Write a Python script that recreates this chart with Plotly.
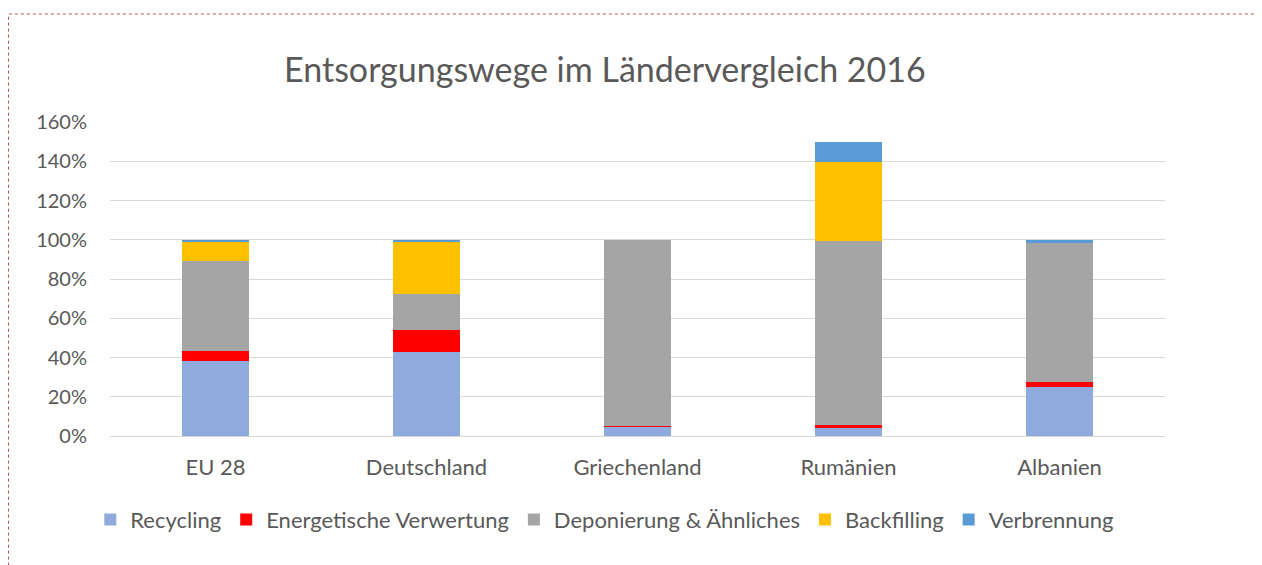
import plotly.graph_objects as go

laender = ['EU 28', 'Deutschland', 'Griechenland', 'Rumänien', 'Albanien']

# Anteile in Prozent
recycling = [38.0, 42.6, 4.6, 4.1, 25.1]
energetisch = [5.4, 11.4, 0.5, 1.3, 2.6]
deponierung = [45.9, 18.2, 94.9, 94.1, 70.5]
backfilling = [10.0, 26.7, 0.0, 40.1, 0.0]
verbrennung = [0.8, 1.1, 0.0, 10.0, 1.8]

reihen = [
    ('Recycling', recycling, '#8FAADC'),
    ('Energetische Verwertung', energetisch, '#FF0000'),
    ('Deponierung & Ähnliches', deponierung, '#A5A5A5'),
    ('Backfilling', backfilling, '#FFC000'),
    ('Verbrennung', verbrennung, '#5B9BD5'),
]

grau = '#595959'
schrift = 'Lato'

fig = go.Figure()
for name, werte, farbe in reihen:
    fig.add_trace(go.Bar(
        x=laender,
        y=[w / 100 for w in werte],
        name=name,
        marker=dict(color=farbe, line=dict(width=0)),
        width=0.315,
    ))

# die Seite hat 8px Rand, daher Größe und Ränder entsprechend verschoben
fig.update_layout(
    barmode='stack',
    width=1254,
    height=557,
    paper_bgcolor='white',
    plot_bgcolor='white',
    margin=dict(l=102, r=97, t=114, b=129),
    font=dict(family=schrift, color=grau, size=19),
    title=dict(
        text='Entsorgungswege im Ländervergleich 2016',
        x=0.476, xanchor='center',
        y=0.889, yanchor='middle',
        font=dict(size=34, color=grau, family=schrift),
    ),
    xaxis=dict(
        showgrid=False,
        showline=True,
        linecolor='#D9D9D9',
        linewidth=1,
        ticks='',
        ticklabelstandoff=12,
        tickfont=dict(size=22, color=grau),
    ),
    yaxis=dict(
        range=[0, 1.6],
        dtick=0.2,
        tickformat='.0%',
        showgrid=True,
        gridcolor='#D9D9D9',
        gridwidth=1,
        zeroline=False,
        showline=False,
        ticks='',
        ticklabelstandoff=22,
        tickfont=dict(size=20, color=grau),
    ),
    legend=dict(
        orientation='h',
        x=0.469, xanchor='center',
        y=-0.2, yanchor='top',
        font=dict(size=22, color=grau),
        traceorder='normal',
        itemwidth=30,
    ),
    bargap=0.685,
)

# gepunkteter roter Rahmen um das Diagramm
fig.add_shape(
    type='rect',
    xref='paper', yref='paper',
    x0=-0.0962, x1=1.0915, y0=-0.45, y1=1.344,
    line=dict(color='#C0504D', width=1, dash='dot'),
    fillcolor='rgba(0,0,0,0)',
    layer='below',
)

fig.write_html('out.html')
